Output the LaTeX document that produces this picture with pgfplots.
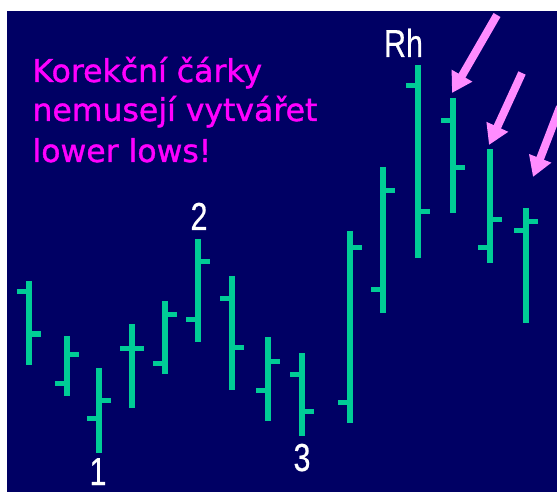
\documentclass[border=0pt]{standalone}
\usepackage{fontspec}
\setmainfont{DejaVu Sans}
\newfontfamily\pinkfont[FakeBold=1.2]{DejaVu Sans}
\newfontfamily\labelfont[FakeBold=0.6]{Liberation Sans}
\usepackage{pgfplots}
\usepackage{pgfplotstable}
\pgfplotsset{compat=1.18}
\usetikzlibrary{arrows.meta}
\definecolor{navybg}{RGB}{0,0,100}
\definecolor{barcol}{RGB}{0,204,150}
\definecolor{pinktext}{RGB}{255,0,255}
\definecolor{arrowpink}{RGB}{255,140,255}

% x = bar position, o/h/l/c = open, high, low, close
\pgfplotstableread{
x   o   h   l   c
29  200 211 127 158
67  109 156 96  138
99  74  124 39  92
132 144 168 84  144
165 129 191 118 177
198 172 253 150 230
232 193 216 102 145
268 102 155 71  131
302 118 139 56  81
350 90  261 69  244
383 202 325 179 301
418 406 427 234 280
453 371 394 279 324
490 244 343 229 272
526 261 284 169 270
}\bars

\begin{document}
\begin{tikzpicture}
\begin{axis}[
    hide axis, scale only axis,
    width=222.8pt, height=196.8pt,
    xmin=0, xmax=557, ymin=0, ymax=492,
]
\fill[white] (axis cs:0,0) rectangle (axis cs:557,492);
\fill[navybg] (axis cs:7,0) rectangle (axis cs:557,481);

% high-low range
\addplot[barcol, line width=2.1pt, quiver={u=0, v=\thisrow{l}-\thisrow{h}}]
    table[x=x, y=h]{\bars};
% open tick (left)
\addplot[barcol, line width=2pt, quiver={u=-12, v=0}]
    table[x=x, y=o]{\bars};
% close tick (right)
\addplot[barcol, line width=2pt, quiver={u=12, v=0}]
    table[x=x, y=c]{\bars};

\begin{scope}
\clip (axis cs:7,0) rectangle (axis cs:557,481);
\draw[arrowpink, line width=3.2pt, -{Triangle[width=9pt, length=8pt]}]
    (axis cs:497,477) -- (axis cs:452,399);
\draw[arrowpink, line width=3.2pt, -{Triangle[width=9pt, length=8pt]}]
    (axis cs:522,419) -- (axis cs:489,347);
\draw[arrowpink, line width=3.2pt, -{Triangle[width=9pt, length=8pt]}]
    (axis cs:560,385) -- (axis cs:533,315);
\end{scope}

\begin{scope}[every node/.style={inner sep=0pt, anchor=base west, text=pinktext,
    font=\pinkfont\fontsize{12.6}{15}\selectfont}]
\node at (axis cs:32,410) {Korekční čárky};
\node at (axis cs:32,371) {nemusejí vytvářet};
\node at (axis cs:32,330) {lower lows!};
\end{scope}

\begin{scope}[every node/.style={inner sep=0pt, anchor=base, text=white,
    font=\labelfont\fontsize{15.6}{18}\selectfont}]
\node at (axis cs:98,7) {\scalebox{0.78}[1]{1}};
\node at (axis cs:199,262) {\scalebox{0.78}[1]{2}};
\node at (axis cs:302,21) {\scalebox{0.78}[1]{3}};
\node at (axis cs:403.5,435) {\scalebox{0.78}[1]{Rh}};
\end{scope}
\end{axis}
\end{tikzpicture}
\end{document}
